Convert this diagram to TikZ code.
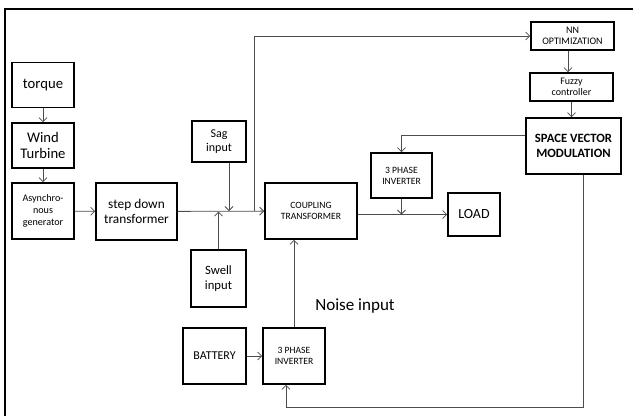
\documentclass[tikz,border=0pt]{standalone}
\usepackage{fontspec}
\setmainfont{Carlito}
\usetikzlibrary{arrows.meta}
\tikzset{
 blk/.style={draw,line width=1.2pt,align=center,inner sep=1pt},
 wire/.style={draw=black!70,line width=.6pt,-{Straight Barb[length=3pt,width=6pt]}},
 fs/.style={font=\fontsize{#1}{\dimexpr#1pt*115/100\relax}\selectfont},
}
\begin{document}
\begin{tikzpicture}[x=.75pt,y=-.75pt]
 \useasboundingbox (0,0) rectangle (633,415);
 \draw[line width=1.2pt] (5,416) -- (5,9) -- (634,9);
 % left chain
 \node[blk,fs=11,minimum width=46.5pt,minimum height=33.75pt] (torque) at (43,85) {torque};
 \node[blk,fs=11,minimum width=46.5pt,minimum height=33.75pt] (wt) at (43,145.5) {Wind\\Turbine};
 \node[blk,fs=7.6,minimum width=46.5pt,minimum height=42pt] (async) at (43,211) {Asynchro-\\nous\\generator};
 \node[blk,fs=10,minimum width=60.75pt,minimum height=42.75pt] (step) at (136.5,211.5) {step down\\transformer};
 \node[blk,fs=9,minimum width=40.5pt,minimum height=30.75pt] (sag) at (219,141.5) {Sag\\input};
 \node[blk,fs=9.5,minimum width=41.25pt,minimum height=42.75pt] (swell) at (218.5,278.5) {Swell\\input};
 \node[blk,fs=7.2,minimum width=69pt,minimum height=42pt] (coup) at (311,211) {COUPLING\\TRANSFORMER};
 \node[blk,fs=9,minimum width=47.25pt,minimum height=42pt] (bat) at (214.5,356) {BATTERY};
 \node[blk,fs=7.2,minimum width=46.5pt,minimum height=42pt] (invb) at (294,356) {3 PHASE\\INVERTER};
 \node[blk,fs=7.2,minimum width=45.75pt,minimum height=33.75pt] (invt) at (401.5,175.5) {3 PHASE\\INVERTER};
 \node[blk,fs=10.5,minimum width=39pt,minimum height=32.25pt] (load) at (474,214.5) {LOAD};
 % control chain
 \node[blk,fs=7.5,minimum width=62.25pt,minimum height=21pt] (nn) at (572.5,36) {NN\\OPTIMIZATION};
 \node[blk,fs=7.5,minimum width=62.25pt,minimum height=21pt] (fuzzy) at (571.5,87) {Fuzzy\\controller};
 \node[blk,font=\fontsize{9.5}{11}\selectfont\bfseries,minimum width=71.25pt,minimum height=42pt] (svm) at (573.5,146) {SPACE VECTOR\\MODULATION};
 \node[fs=12.8] (noise) at (355,306) {Noise input};
 % connectors
 \draw[wire] (torque) -- (wt);
 \draw[wire] (wt) -- (async);
 \draw[wire] (async) -- (step);
 \draw[wire] (step) -- (coup);
 \coordinate (sagin) at (229,211);
 \draw[wire] (sag.south -| sagin) -- (sagin);
 \draw[wire] (swell.north) -- (swell.north |- step.east);
 \coordinate (tap) at (254,211);
 \draw[wire] (tap) |- (nn.west);
 \draw[wire] ([xshift=-3.4pt]nn.south) -- ([xshift=-3.4pt]nn.south |- fuzzy.north);
 \draw[wire] (fuzzy.south) -- (fuzzy.south |- svm.north);
 \draw[wire] ([yshift=8.25pt]svm.west) -| (invt.north);
 \draw[wire] (invt.south) -- (invt.south |- load.west);
 \draw[wire] (coup.east |- load.west) -- (load.west);
 \draw[wire] (invb.north) -- (invb.north |- coup.south);
 \draw[wire] (bat) -- (invb);
 \draw[wire] ([xshift=7.5pt]svm.south) -- ++(0,233) -| ([xshift=-6pt]invb.south);
\end{tikzpicture}
\end{document}
